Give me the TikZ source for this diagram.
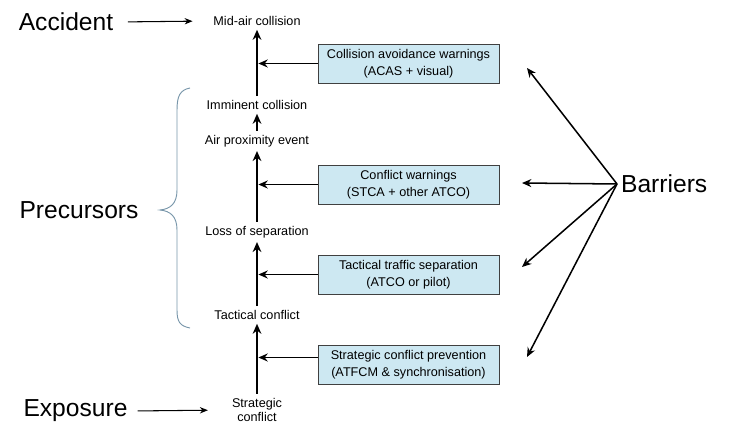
\documentclass[tikz,border=0pt]{standalone}
\usepackage{fontspec}
\setmainfont{Liberation Sans}
\usetikzlibrary{arrows.meta}
\usetikzlibrary{positioning}
\definecolor{boxblue}{RGB}{205,232,242}
\definecolor{bracegray}{RGB}{120,150,170}

\begin{document}
\begin{tikzpicture}[x=0.3mm, y=-0.3mm, font=\fontsize{10.8}{14.5}\selectfont,
  big/.style={font=\fontsize{21}{24}\selectfont},
  barrierbox/.style={draw=black!75, fill=boxblue, minimum width=54.3mm,
    minimum height=11.7mm, align=center, inner sep=1pt},
  flow/.style={line width=2.4pt, -{Stealth[length=3mm, width=2.6mm]}},
  feed/.style={line width=1.3pt, -{Stealth[length=2.8mm, width=2.4mm]}},
  pointer/.style={line width=0.9pt, -{Stealth[length=2.4mm, width=1.9mm]}}]

\useasboundingbox (0,0) rectangle (733,425);

% Event chain
\node (midair)   at (257,21)  {Mid-air collision};
\node (imminent) at (257,105) {Imminent collision};
\node (airprox)  at (257,141) {Air proximity event};
\node (loss)     at (257,232) {Loss of separation};
\node (tactical) at (257,315) {Tactical conflict};
\node[align=center, font=\fontsize{10.8}{12.5}\selectfont] (strategic) at (257,410) {Strategic\\conflict};

\draw[flow] (imminent) -- (midair);
\draw[flow] (airprox) -- (imminent);
\draw[flow] (loss) -- (airprox);
\draw[flow] (tactical) -- (loss);
\draw[flow] (strategic) -- (tactical);

% Barrier boxes
\node[barrierbox] (bx1) at (408.5,63.5)  {Collision avoidance warnings\\(ACAS + visual)};
\node[barrierbox] (bx2) at (408.5,184.5) {Conflict warnings\\(STCA + other ATCO)};
\node[barrierbox] (bx3) at (408.5,274.5) {Tactical traffic separation\\(ATCO or pilot)};
\node[barrierbox] (bx4) at (408.5,364.5) {Strategic conflict prevention\\(ATFCM \& synchronisation)};

\draw[feed] (bx1.west) -- ([xshift=1.2pt]bx1.west -| midair);
\draw[feed] (bx2.west) -- ([xshift=1.2pt]bx2.west -| midair);
\draw[feed] (bx3.west) -- ([xshift=1.2pt]bx3.west -| midair);
\draw[feed] ([yshift=2.1mm]bx4.west) -- ([xshift=1.2pt, yshift=2.1mm]bx4.west -| midair);

% Barriers
\coordinate (hub) at (617,184);
\node[big, right=0pt of hub] (barriers) {Barriers};
\coordinate (tip1) at (527,68);
\coordinate (tip2) at (522,183);
\coordinate (tip3) at (522,267);
\coordinate (tip4) at (527,357);
\foreach \tip in {tip1,tip2,tip3,tip4}
  \draw[feed] (hub) -- (\tip);

% Left labels
\node[big] (accident)   at (66,22)   {Accident};
\node[big] (precursors) at (79,210)  {Precursors};
\node[big] (exposure)   at (75.5,411) {Exposure};

\draw[pointer, shorten <=3.2mm, shorten >=5mm] (accident.east) -- (midair.west);
\draw[pointer, shorten <=1.8mm, shorten >=6mm] (exposure.east) -- (strategic.west);

% Brace
\draw[bracegray, line width=0.8pt]
  (190,88) .. controls (180,90) and (177,96) .. (177,110) -- (177,190)
  .. controls (177,204) and (170,209) .. (160,210)
  .. controls (170,211) and (177,216) .. (177,230) -- (177,310)
  .. controls (177,322) and (180,326) .. (190,328);

\end{tikzpicture}
\end{document}
